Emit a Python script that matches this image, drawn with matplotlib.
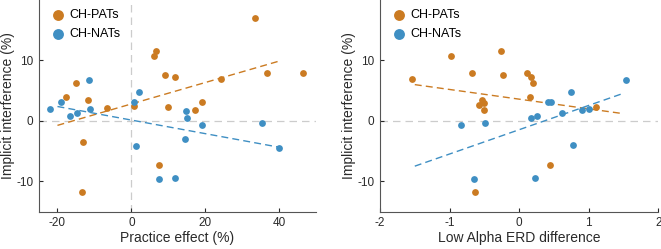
import numpy as np
import matplotlib
matplotlib.use('Agg')
import matplotlib.pyplot as plt

plt.rcParams['font.family'] = ['Liberation Sans', 'DejaVu Sans']
plt.rcParams['axes.unicode_minus'] = False

# left panel: practice effect vs implicit interference
pats_practice = [33.4, 46.5, 36.6, 24.2, 6.7, 6.2, 9.2, 11.9, -15.1, -17.7, -11.7,
                 -6.5, 0.6, 9.8, 19.2, 17.3, -13.2, 7.5, -13.3]
pats_interf_l = [17.0, 8.0, 7.9, 6.9, 11.6, 10.7, 7.6, 7.3, 6.3, 4.0, 3.5,
                 2.1, 2.5, 2.3, 3.1, 1.8, -3.4, -7.2, -11.7]
nats_practice = [-11.4, 2.2, -19.1, 0.8, -21.9, -11.3, -14.8, -16.6, 14.9, 15.1,
                 19.2, 35.4, 1.2, 14.5, 40.0, 7.5, 11.7]
nats_interf_l = [6.8, 4.8, 3.2, 3.2, 2.0, 2.0, 1.4, 0.9, 1.7, 0.5,
                 -0.6, -0.3, -4.1, -2.9, -4.5, -9.6, -9.5]

# right panel: low alpha ERD difference vs implicit interference
pats_erd = [-1.538, -0.984, -0.684, -0.268, -0.234, 0.11, 0.168, 0.2, 0.153,
            -0.53, -0.507, -0.575, -0.507, 1.10, 0.45, -0.628]
pats_interf_r = [6.9, 10.7, 7.86, 11.6, 7.6, 8.0, 7.3, 6.3, 4.0,
                 3.5, 3.0, 2.6, 1.8, 2.3, -7.2, -11.7]
nats_erd = [1.538, 0.747, 0.41, 0.46, 0.172, 0.263, 0.62, 0.905, 1.006,
            0.78, -0.49, -0.83, -0.656, 0.23]
nats_interf_r = [6.8, 4.8, 3.2, 3.2, 0.5, 0.9, 1.4, 1.76, 2.0,
                 -4.05, -0.33, -0.6, -9.6, -9.5]

orange = '#CB7B22'
blue = '#3F8FC3'
axcol = '#555555'
txtcol = '#2a2a2a'


def panel(ax, xp, yp, xn, yn, fit_range, xlim, xticks, xlabel, vline):
    ax.axhline(0, color='#cccccc', lw=0.9, ls=(0, (6, 4)), zorder=0)
    if vline:
        ax.axvline(0, color='#cccccc', lw=0.9, ls=(0, (6, 4)), zorder=0)
    xs = np.array(fit_range)
    for x, y, c in [(xp, yp, orange), (xn, yn, blue)]:
        k, b = np.polyfit(x, y, 1)
        ax.plot(xs, k * xs + b, color=c, lw=1.0, ls=(0, (5, 3)), zorder=1)
    ax.scatter(xp, yp, s=24, color=orange, lw=0, label='CH-PATs', zorder=2)
    ax.scatter(xn, yn, s=24, color=blue, lw=0, label='CH-NATs', zorder=2)
    ax.set_xlim(xlim)
    ax.set_ylim(-15, 20)
    ax.set_xticks(xticks)
    ax.set_yticks([-10, 0, 10])
    ax.set_xlabel(xlabel, fontsize=10, color=txtcol, labelpad=1)
    ax.set_ylabel('Implicit interference (%)', fontsize=10, color=txtcol, labelpad=1)
    ax.tick_params(direction='in', length=3, labelsize=8.5, colors=txtcol, width=0.8, pad=4)
    for s in ['top', 'right']:
        ax.spines[s].set_visible(False)
    for s in ['left', 'bottom']:
        ax.spines[s].set_color(axcol)
        ax.spines[s].set_linewidth(0.8)
    ax.legend(loc='upper left', frameon=False, fontsize=9, handletextpad=0.05,
              borderaxespad=0.2, labelspacing=0.55, markerscale=1.6,
              borderpad=0.55, handlelength=1.6)


fig = plt.figure(figsize=(6.61, 2.49), dpi=100)
ax1 = fig.add_axes([39 / 661, 1 - 211.7 / 249, (316 - 39) / 661, 211.7 / 249])
ax2 = fig.add_axes([380 / 661, 1 - 211.7 / 249, (658.3 - 380) / 661, 211.7 / 249])

panel(ax1, pats_practice, pats_interf_l, nats_practice, nats_interf_l,
      [-20, 40], (-25, 50), [-20, 0, 20, 40], 'Practice effect (%)', True)
panel(ax2, pats_erd, pats_interf_r, nats_erd, nats_interf_r,
      [-1.5, 1.5], (-2, 2), [-2, -1, 0, 1, 2], 'Low Alpha ERD difference', False)

fig.savefig('out.png', dpi=100)
